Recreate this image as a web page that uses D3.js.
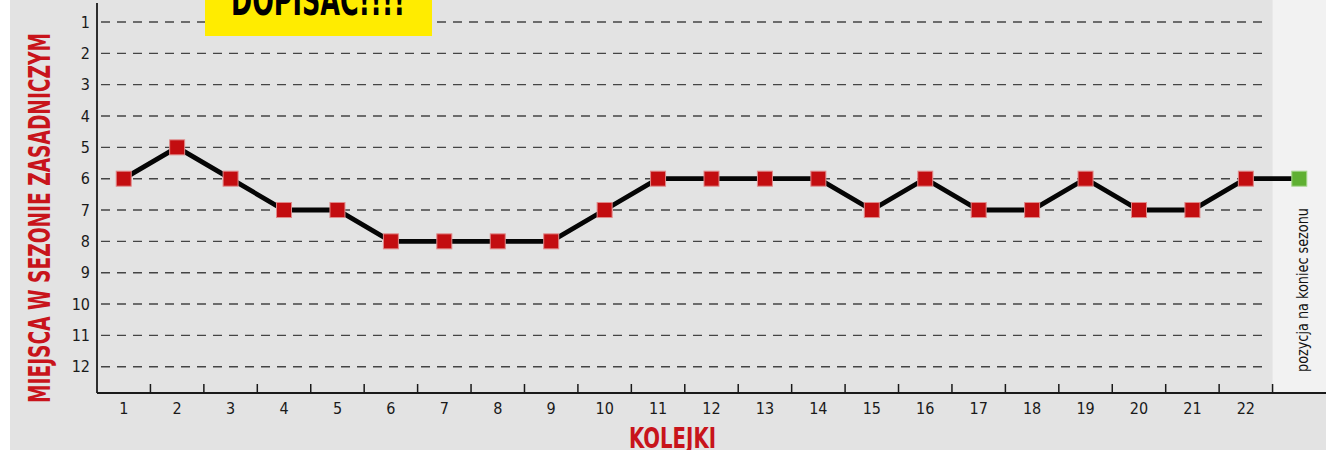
<!DOCTYPE html>
<html>
<head>
<meta charset="utf-8">
<script src="https://cdn.jsdelivr.net/npm/d3@7"></script>
<style>
  html, body { margin: 0; padding: 0; background: #fff; }
  svg { display: block; }
  text { font-family: "DejaVu Sans Condensed", "Liberation Sans Narrow", sans-serif; }
</style>
</head>
<body>
<svg id="chart"></svg>
<script>
// round labels (22 rounds + final position)
const rounds = ["1","2","3","4","5","6","7","8","9","10","11","12","13","14","15","16","17","18","19","20","21","22"];
const places = [6, 5, 6, 7, 7, 8, 8, 8, 8, 7, 6, 6, 6, 6, 7, 6, 7, 7, 6, 7, 7, 6];
const finalPlace = 6;
const placeTicks = [1,2,3,4,5,6,7,8,9,10,11,12];

const width = 1326, height = 450;
const margin = { left: 97, right: 0, top: 3, bottom: 57 };
const axisY = 393;

const svg = d3.select("#chart").attr("width", width).attr("height", height);

// background panel
svg.append("rect").attr("x", 10).attr("y", 0).attr("width", width - 10).attr("height", height)
  .attr("fill", "#e3e3e3");

const x = d3.scaleBand()
  .domain([...rounds, "final"])
  .range([margin.left, width])
  .padding(0);

const y = d3.scaleLinear().domain([1, 12]).range([22, 366.7]);

// light column for season-end position
svg.append("rect")
  .attr("x", x("final")).attr("y", 0)
  .attr("width", x.bandwidth()).attr("height", axisY)
  .attr("fill", "#f2f2f2");

// dashed gridlines
svg.append("g")
  .selectAll("line")
  .data(placeTicks)
  .join("line")
  .attr("x1", margin.left + 4)
  .attr("x2", x("final") - 5)
  .attr("y1", (d) => y(d))
  .attr("y2", (d) => y(d))
  .attr("stroke", "#454545")
  .attr("stroke-width", 1.4)
  .attr("stroke-dasharray", "9,7");

// y axis
const yAxis = svg.append("g")
  .attr("transform", `translate(${margin.left},0)`)
  .call(d3.axisLeft(y).tickValues(placeTicks).tickSize(0).tickPadding(7));
yAxis.select(".domain").remove();
yAxis.selectAll("text")
  .attr("font-size", 16)
  .attr("fill", "#1a1a1a")
  .style("font-family", null);

svg.append("line")
  .attr("x1", margin.left).attr("x2", margin.left)
  .attr("y1", margin.top).attr("y2", axisY)
  .attr("stroke", "#1a1a1a").attr("stroke-width", 1.8);

// x axis line + boundary ticks
svg.append("line")
  .attr("x1", margin.left).attr("x2", width)
  .attr("y1", axisY).attr("y2", axisY)
  .attr("stroke", "#1a1a1a").attr("stroke-width", 1.8);

svg.append("g")
  .selectAll("line")
  .data(x.domain().slice(1))
  .join("line")
  .attr("x1", (d) => x(d)).attr("x2", (d) => x(d))
  .attr("y1", axisY - 9).attr("y2", axisY)
  .attr("stroke", "#1a1a1a").attr("stroke-width", 1.5);

svg.append("g")
  .selectAll("text")
  .data(rounds)
  .join("text")
  .attr("x", (d) => x(d) + x.bandwidth() / 2)
  .attr("y", axisY + 21)
  .attr("text-anchor", "middle")
  .attr("font-size", 16)
  .attr("fill", "#1a1a1a")
  .text((d) => d);

// line through all positions
const series = rounds.map((r, i) => ({ key: r, value: places[i], final: false }));
series.push({ key: "final", value: finalPlace, final: true });

const line = d3.line()
  .x((d) => x(d.key) + x.bandwidth() / 2)
  .y((d) => y(d.value));

svg.append("path")
  .datum(series)
  .attr("d", line)
  .attr("fill", "none")
  .attr("stroke", "#050505")
  .attr("stroke-width", 4.8)
  .attr("stroke-linejoin", "miter");

const mk = 15;
svg.append("g")
  .selectAll("rect")
  .data(series)
  .join("rect")
  .attr("x", (d) => x(d.key) + x.bandwidth() / 2 - mk / 2)
  .attr("y", (d) => y(d.value) - mk / 2)
  .attr("width", mk)
  .attr("height", mk)
  .attr("fill", (d) => (d.final ? "#5fb032" : "#c30d10"))
  .attr("stroke", (d) => (d.final ? "#a8d68e" : "#e08a8a"))
  .attr("stroke-width", 1);

// final column caption
const fx = x("final") + x.bandwidth() / 2 + 4;
svg.append("text")
  .attr("transform", `translate(${fx},372) rotate(-90)`)
  .attr("font-size", 15)
  .attr("fill", "#111")
  .attr("dominant-baseline", "middle")
  .attr("textLength", 164)
  .attr("lengthAdjust", "spacingAndGlyphs")
  .text("pozycja na koniec sezonu");

// axis titles
svg.append("text")
  .attr("transform", `translate(50,218) rotate(-90)`)
  .attr("text-anchor", "middle")
  .attr("font-size", 31)
  .attr("font-weight", "bold")
  .attr("fill", "#c8141b")
  .attr("textLength", 370)
  .attr("lengthAdjust", "spacingAndGlyphs")
  .text("MIEJSCA W SEZONIE ZASADNICZYM");

svg.append("text")
  .attr("x", 672.5)
  .attr("y", 448)
  .attr("text-anchor", "middle")
  .attr("font-size", 28)
  .attr("font-weight", "bold")
  .attr("fill", "#c8141b")
  .attr("textLength", 87)
  .attr("lengthAdjust", "spacingAndGlyphs")
  .text("KOLEJKI");

// yellow note box
svg.append("rect")
  .attr("x", 205).attr("y", 0)
  .attr("width", 227).attr("height", 36)
  .attr("fill", "#ffec00");
svg.append("text")
  .attr("x", 318)
  .attr("y", 15)
  .attr("text-anchor", "middle")
  .attr("font-size", 42)
  .attr("font-weight", "bold")
  .attr("fill", "#000")
  .attr("textLength", 174)
  .attr("lengthAdjust", "spacingAndGlyphs")
  .text("DOPISAC!!!!");
</script>
</body>
</html>
